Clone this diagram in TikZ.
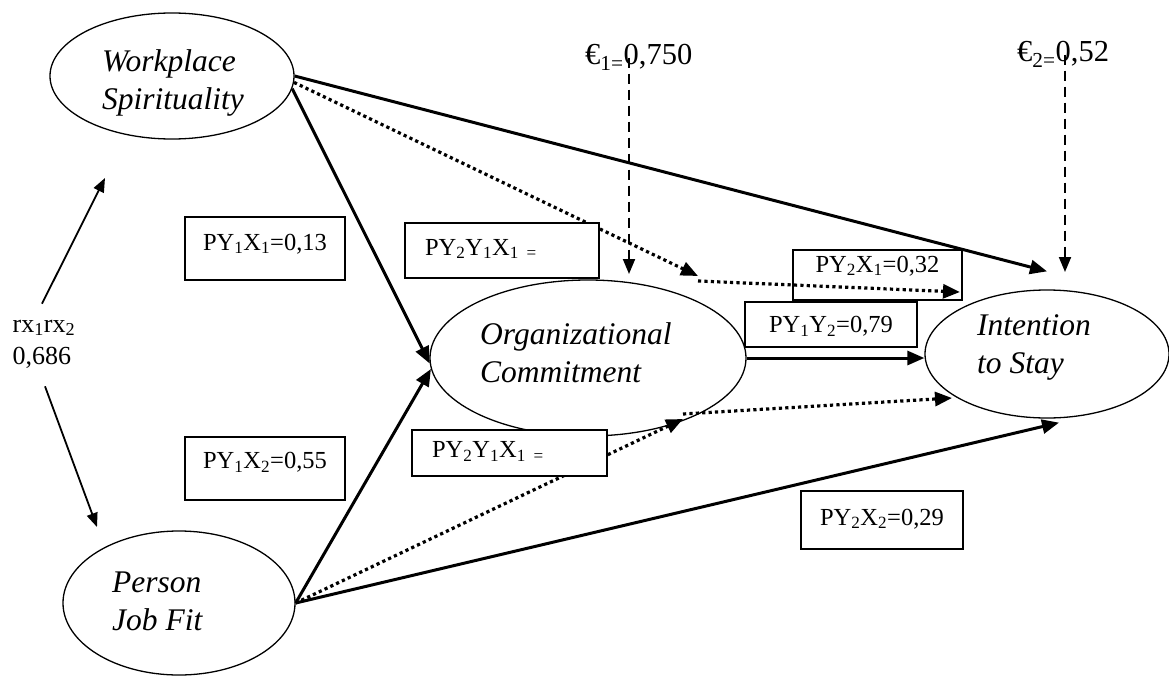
\documentclass[tikz,border=0pt]{standalone}
\usepackage{fontspec}
\setmainfont{Liberation Serif}
\usetikzlibrary{arrows.meta,positioning,shapes.geometric}

\tikzset{
  var/.style={ellipse, draw, line width=1.3pt, fill=white, inner sep=0pt},
  varname/.style={anchor=north west, align=left, inner sep=0pt, font=\fontsize{31.5}{38}\selectfont\itshape},
  coef/.style={draw, line width=1.6pt, fill=white, inner sep=0pt, font=\fontsize{24.5}{28}\selectfont, text height=18pt},
  errlabel/.style={anchor=base west, inner sep=0pt, font=\fontsize{30.5}{34}\selectfont},
  direct/.style={line width=3pt, -{Triangle[length=17pt,width=14pt]}},
  indirect/.style={line width=3.2pt, dash pattern=on 3.2pt off 3.2pt, -{Triangle[length=17pt,width=14pt]}},
  residual/.style={line width=2pt, dash pattern=on 10pt off 6pt, -{Triangle[length=15pt,width=12pt]}},
  corr/.style={line width=1.8pt, -{Triangle[length=14pt,width=11pt]}},
}

\begin{document}
\begin{tikzpicture}[x=1pt,y=-1pt]
\useasboundingbox (0,0) rectangle (1169,677);
% variabel laten
\node[var, minimum width=244pt, minimum height=126pt] (ws) at (172,76) {};
\node[var, minimum width=316pt, minimum height=156pt] (oc) at (588,358) {};
\node[var, minimum width=244pt, minimum height=128pt] (is) at (1047,354) {};
\node[var, minimum width=232pt, minimum height=144pt] (pjf) at (179,603) {};
\node[varname] (wsName) at (102,49) {Workplace\\Spirituality};
\node[varname] (ocName) at (480,322) {Organizational\\Commitment};
\node[varname] (isName) at (977,314) {Intention\\to Stay};
\node[varname] (pjfName) at (112,572) {Person\\Job Fit};
% korelasi
\node[align=left, inner sep=0pt, font=\fontsize{26}{32}\selectfont] (rx) at (44,344) {rx\textsubscript{1}rx\textsubscript{2}\\0,686};
\coordinate (wsFoot) at (105,178);
\coordinate (pjfHead) at (97,527);
\draw[corr] ([xshift=-2pt,yshift=16pt]rx.north) -- (wsFoot);
\draw[corr] ([xshift=1pt,yshift=-18pt]rx.south) -- (pjfHead);
% residual
\node[errlabel] (e1) at (585,65) {€\textsubscript{1=}0,750};
\node[errlabel] (e2) at (1017,62) {€\textsubscript{2=}0,52};
\coordinate (e1tip) at (629,274);
\coordinate (e2tip) at (1065,272);
\draw[residual] (e1tip |- e1.west) -- (e1tip);
\draw[residual] (e2tip |- e2.west) -- (e2tip);
% jalur langsung
\draw[direct] (ws.-6) -- (oc.182);
\draw[direct] (pjf.east) -- (oc.184);
\draw[direct] (ws.east) -- ([yshift=18pt]is.north);
\draw[direct] (pjf.east) -- ([xshift=12pt,yshift=-4pt]is.south);
\draw[direct] (oc.east) -- (oc.east -| is.west);
% jalur tidak langsung
\coordinate (ocAbove) at (698,276);
\coordinate (ocBelow) at (683,419);
\coordinate (isUpper) at (960,292);
\coordinate (isLower) at (952,398);
\draw[indirect] (ws.-3) -- (ocAbove);
\draw[indirect] ([yshift=-5pt]ocAbove) -- (isUpper);
\draw[indirect] (pjf.east) -- (ocBelow);
\draw[indirect] ([yshift=5pt]ocBelow) -- (isLower);
% koefisien
\node[coef, minimum width=160pt, minimum height=63pt, text depth=15pt] (p11) at (265,248.5) {PY\textsubscript{1}X\textsubscript{1}=0,13};
\node[coef, minimum width=160pt, minimum height=63pt, text depth=18pt] (p12) at (265,468.5) {PY\textsubscript{1}X\textsubscript{2}=0,55};
\node[coef, minimum width=194pt, minimum height=55pt, text depth=9pt, text width=154pt, align=left] (p211) at (502,250.5) {PY\textsubscript{2}Y\textsubscript{1}X\textsubscript{1 =}};
\node[coef, minimum width=195pt, minimum height=46pt, text depth=9pt, text width=155pt, align=left] (p212) at (509.5,453) {PY\textsubscript{2}Y\textsubscript{1}X\textsubscript{1 =}};
\node[coef, minimum width=172pt, minimum height=45pt, text depth=2pt] (p12y) at (831,324.5) {PY\textsubscript{1}Y\textsubscript{2}=0,79};
\node[coef, fill=none, minimum width=169pt, minimum height=50pt, text depth=24pt] (p21) at (877.5,275) {PY\textsubscript{2}X\textsubscript{1}=0,32};
\node[coef, minimum width=162pt, minimum height=58pt, text depth=8pt] (p22) at (882,520) {PY\textsubscript{2}X\textsubscript{2}=0,29};
\end{tikzpicture}
\end{document}
